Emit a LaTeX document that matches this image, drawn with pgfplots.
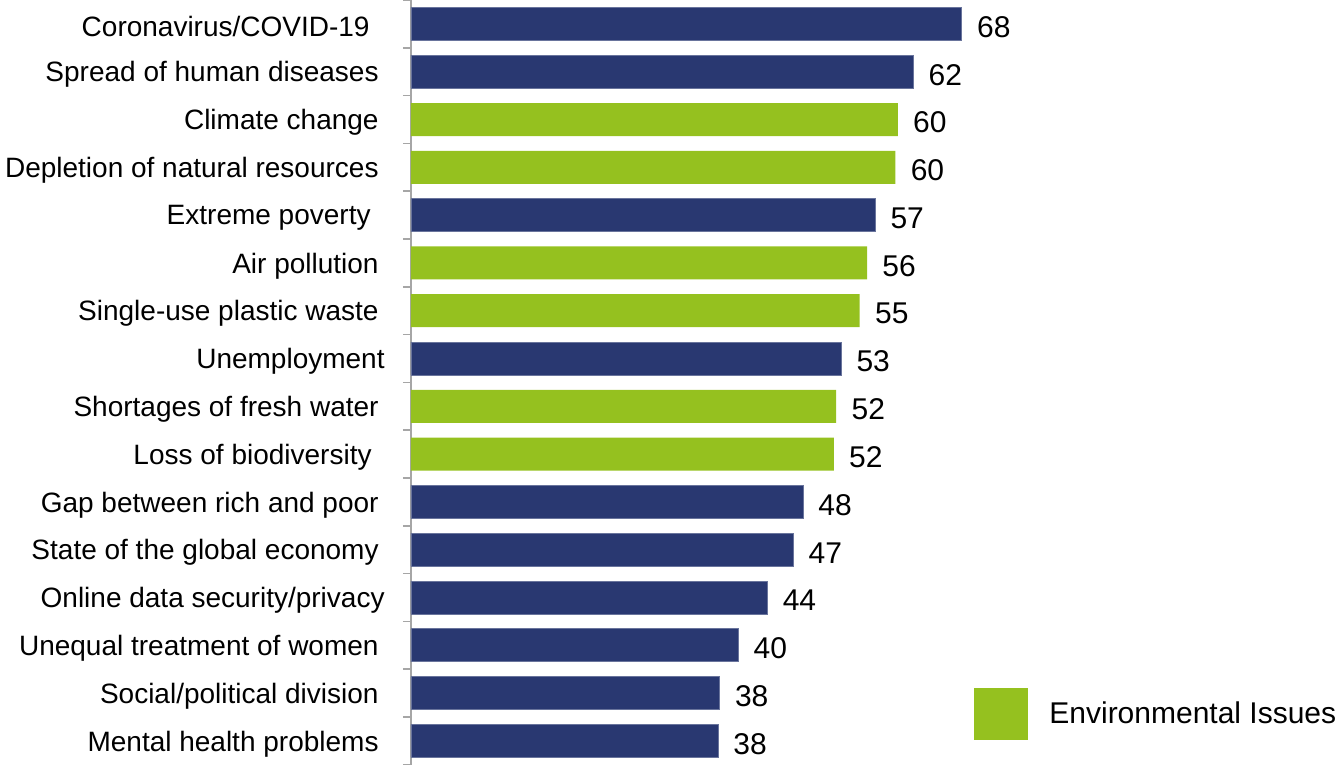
\documentclass[border=0pt]{standalone}
\usepackage{pgfplots}
\pgfplotsset{compat=1.18}
\usepackage{fontspec}
\setmainfont{Liberation Sans}
\definecolor{navy}{HTML}{293871}
\definecolor{envgreen}{HTML}{95C11F}
\definecolor{axisgray}{HTML}{A6A6A6}
\begin{document}
\begin{tikzpicture}
\begin{axis}[
  name=ax,
  scale only axis,
  width=464bp, height=382.4bp,
  xmin=0, xmax=114.57,
  ymin=-0.5, ymax=15.5,
  y dir=reverse,
  axis x line=none,
  axis y line*=left,
  y axis line style={draw=axisgray, line width=0.8bp},
  ytick={0,...,15},
  minor ytick={-0.5,0.5,...,15.5},
  major tick length=0pt,
  minor tick length=4bp,
  tick align=outside,
  minor tick style={draw=axisgray, line width=0.8bp},
  yticklabels={
    Coronavirus/COVID-19\hspace*{4.5bp},
    Spread of human diseases,
    Climate change,
    Depletion of natural resources,
    Extreme poverty\hspace*{4bp},
    Air pollution,
    Single-use plastic waste,
    Unemployment\hspace*{-3bp},
    Shortages of fresh water,
    Loss of biodiversity\hspace*{3.5bp},
    Gap between rich and poor,
    State of the global economy,
    Online data security/privacy\hspace*{-3bp},
    Unequal treatment of women,
    Social/political division,
    Mental health problems},
  yticklabel style={anchor=east, inner sep=0pt, xshift=-16bp, yshift=-1.5bp, font=\fontsize{14bp}{16bp}\selectfont},
  nodes near coords style={anchor=west, inner sep=0pt, xshift=7.5bp, yshift=-1.5bp, font=\fontsize{15bp}{17bp}\selectfont, text=black},
  legend style={draw=none, fill=none, inner sep=0pt, at={(rel axis cs:0.6067,0.0667)}, anchor=west,
    font=\fontsize{15bp}{17bp}\selectfont, cells={anchor=west},
    /tikz/every odd column/.append style={column sep=8.5bp}},
  legend cell align=left,
  clip=false,
]
\addplot[xbar, bar shift=0pt, bar width=16.5bp, fill=navy, draw=navy!70!white, line width=0.4bp,
  nodes near coords, point meta=explicit symbolic, forget plot]
  table[x=x, y=y, meta=lab] {
x y lab
68.0 0 68
62.0 1 62
57.3 4 57
53.1 7 53
48.4 10 48
47.2 11 47
44.0 12 44
40.4 13 40
38.1 14 38
37.9 15 38
};
\addplot[xbar, bar shift=0pt, bar width=16.5bp, fill=envgreen, draw=none,
  nodes near coords, point meta=explicit symbolic,
  legend image code/.code={\fill[envgreen] (0bp,-13bp) rectangle (27bp,13bp);}]
  table[x=x, y=y, meta=lab] {
x y lab
60.1 2 60
59.8 3 60
56.3 5 56
55.4 6 55
52.5 8 52
52.2 9 52
};
\addlegendentry{Environmental Issues}
\end{axis}
\pgfresetboundingbox
\path[use as bounding box] ([xshift=-205.5bp]ax.south west) rectangle (ax.north east);
\end{tikzpicture}
\end{document}
